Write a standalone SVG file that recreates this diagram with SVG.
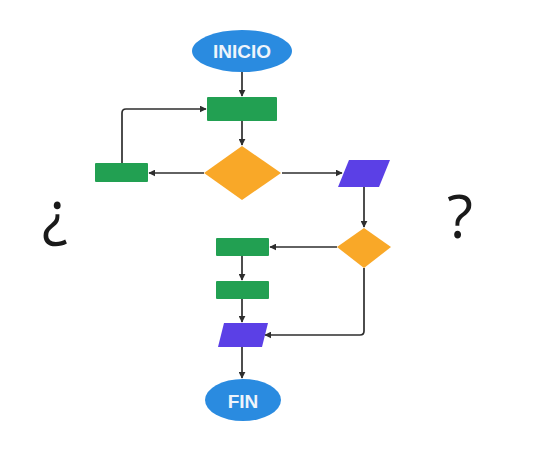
<svg xmlns="http://www.w3.org/2000/svg" width="543" height="459" viewBox="0 0 543 459">
<style>
.term{fill:#2a8be0}
.proc{fill:#22a052}
.dec{fill:#f9a828}
.io{fill:#5b40e6}
.lbl{font-family:"Liberation Sans",Arial,sans-serif;font-weight:bold;font-size:19px;fill:#eef4fb;text-anchor:middle}
.q{font-family:"Open Sans","DejaVu Sans",sans-serif;font-size:60px;fill:#1a1a1a;text-anchor:middle}
.c{fill:none;stroke:#2e2e2e;stroke-width:1.7}
</style>
<defs>
<marker id="ah" viewBox="0 0 10 10" refX="9" refY="5" markerWidth="7" markerHeight="7" orient="auto" markerUnits="userSpaceOnUse">
<path d="M0,0 L10,5 L0,10 z" fill="#2e2e2e"/>
</marker>
</defs>
<rect width="543" height="459" fill="#fff"/>
<g id="connectors">
<path class="c" d="M242,72 V96" marker-end="url(#ah)"/>
<path class="c" d="M242,121 V145" marker-end="url(#ah)"/>
<path class="c" d="M204,173 H149" marker-end="url(#ah)"/>
<path class="c" d="M122,163 V113 Q122,109 126,109 H206" marker-end="url(#ah)"/>
<path class="c" d="M282,173 H342" marker-end="url(#ah)"/>
<path class="c" d="M364,187 V227" marker-end="url(#ah)"/>
<path class="c" d="M337,247 H270" marker-end="url(#ah)"/>
<path class="c" d="M242,256 V280" marker-end="url(#ah)"/>
<path class="c" d="M242,299 V322" marker-end="url(#ah)"/>
<path class="c" d="M364,268 V331 Q364,335 360,335 H265" marker-end="url(#ah)"/>
<path class="c" d="M242,347 V378" marker-end="url(#ah)"/>
</g>
<g id="inicio">
<ellipse class="term" cx="242" cy="51" rx="50" ry="21"/>
<text class="lbl" x="242" y="58">INICIO</text>
</g>
<g id="proc1"><rect class="proc" x="207" y="97" width="70" height="24" rx="1"/></g>
<g id="dec1"><polygon class="dec" points="242,146 281,173 242,200 204,173"/></g>
<g id="proc2"><rect class="proc" x="95" y="163" width="53" height="19" rx="1"/></g>
<g id="io1"><polygon class="io" points="349,160 390,160 379,187 338,187"/></g>
<g id="dec2"><polygon class="dec" points="364,228 391,247 364,268 337,247"/></g>
<g id="proc3"><rect class="proc" x="216" y="238" width="53" height="18" rx="1"/></g>
<g id="proc4"><rect class="proc" x="216" y="281" width="53" height="18" rx="1"/></g>
<g id="io2"><polygon class="io" points="224,323 268,323 262,347 218,347"/></g>
<g id="fin">
<ellipse class="term" cx="243" cy="400" rx="38" ry="21"/>
<text class="lbl" x="243" y="408">FIN</text>
</g>
<text class="q" x="55" y="234">¿</text>
<text class="q" x="460" y="238">?</text>
</svg>
